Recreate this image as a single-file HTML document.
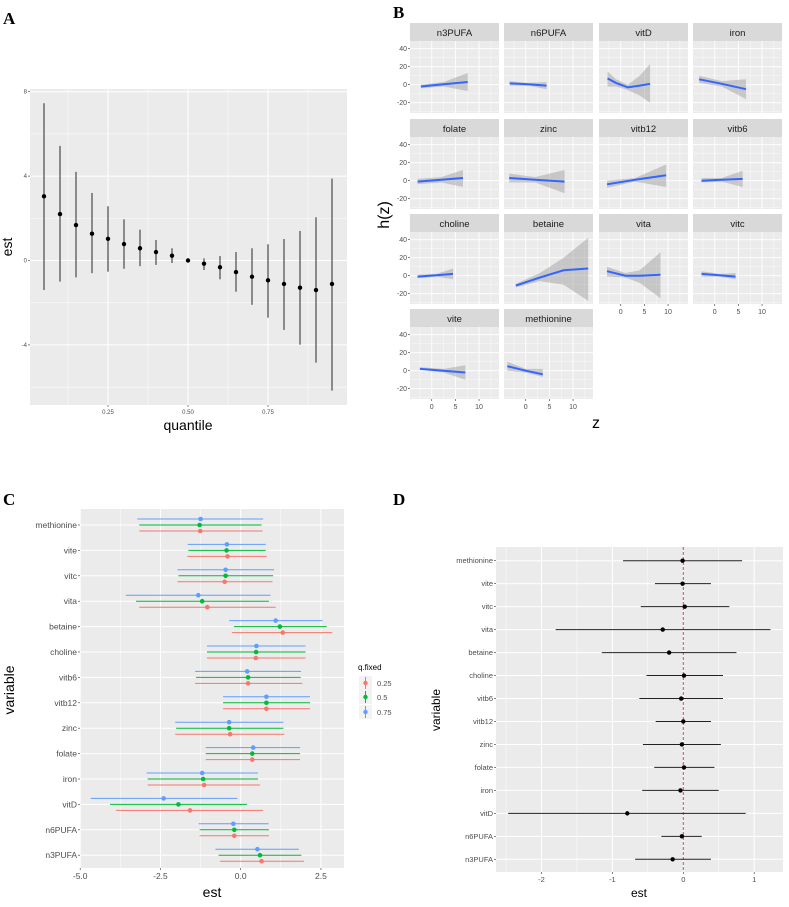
<!DOCTYPE html>
<html><head><meta charset="utf-8"><style>
html,body{margin:0;padding:0;background:#fff;}
svg{display:block;font-family:"Liberation Sans",sans-serif;}
</style></head><body>
<svg id="fig" width="789" height="907" viewBox="0 0 789 907"></svg>
<script>
// ---------- Panel A data ----------
const aQuant=[0.05,0.10,0.15,0.20,0.25,0.30,0.35,0.40,0.45,0.50,0.55,0.60,0.65,0.70,0.75,0.80,0.85,0.90,0.95];
const aEst=[3.04,2.2,1.68,1.27,1.03,0.78,0.58,0.4,0.23,0,-0.15,-0.32,-0.55,-0.77,-0.94,-1.11,-1.29,-1.4,-1.11];
const aLow=[-1.4,-1.0,-0.8,-0.6,-0.53,-0.39,-0.27,-0.21,-0.12,-0.05,-0.45,-0.89,-1.48,-2.1,-2.71,-3.29,-3.99,-4.84,-6.17];
const aHigh=[7.45,5.43,4.2,3.2,2.57,1.95,1.46,0.97,0.58,0.05,0.1,0.21,0.4,0.58,0.77,1.02,1.4,2.05,3.88];
const aYTicks=[8,4,0,-4];
const aXTicks=[0.25,0.50,0.75];
// ---------- Panel B data ----------
const bNames=["n3PUFA","n6PUFA","vitD","iron","folate","zinc","vitb12","vitb6","choline","betaine","vita","vitc","vite","methionine"];
const bZ=[[-2.3,2.5,7.6],[-3.4,0.5,4.4],[-2.8,-1,1.5,4,6.2],[-3.3,1.5,6.6],[-3.0,2,6.6],[-3.5,2,8.2],[-2.9,3,9.6],[-2.8,1.5,5.9],[-3,1,4.5],[-2.1,3,8,13.2],[-2.9,1,4,8.4],[-2.8,1,4.4],[-2.5,2.5,7.1],[-3.9,0,3.6]];
const bH=[[-2,0.5,3],[1.5,0.5,-1],[7,2,-3,-1,1],[6,1,-5],[-1,1,3],[3,1,-1],[-4,1,6],[0,1,2],[-1,0.5,2],[-11,-2,6,8],[5,0,0,1],[2,0.5,-1],[2,0,-2],[5,0,-4]];
const bLo=[[-4,-2,-7],[-1,-1,-5],[-2,-2,-6,-12,-20],[2,-2,-16],[-4,-2,-7],[-2,-2,-14],[-8,-1,-7],[-2,-1,-7],[-3,-1,-4],[-13,-6,-10,-28],[-1,-2,-8,-25],[-1,-1,-4],[1,-2,-10],[0,-2,-7]];
const bHi=[[0,3,13],[4,2,3],[15,6,0,10,23],[10,4,6],[2,4,12],[8,4,12],[0,3,18],[3,3,11],[1,2,8],[-9,3,20,42],[10,3,6,26],[5,2,3],[4,2,6],[10,2,2]];
const bYTicks=[40,20,0,-20];
const bXTicks=[0,5,10];
// ---------- Panel C data ----------
const cVars=["methionine","vite","vitc","vita","betaine","choline","vitb6","vitb12","zinc","folate","iron","vitD","n6PUFA","n3PUFA"];
const cEst25=[-1.26,-0.41,-0.50,-1.04,1.31,0.47,0.23,0.80,-0.33,0.36,-1.14,-1.58,-0.20,0.65];
const cLo25=[-3.16,-1.66,-1.97,-3.16,-0.27,-1.05,-1.42,-0.55,-2.04,-1.09,-2.90,-3.88,-1.28,-0.64];
const cHi25=[0.68,0.81,0.99,1.09,2.85,2.02,1.92,2.16,1.36,1.85,0.60,0.70,0.88,1.97];
const cEst50=[-1.28,-0.44,-0.47,-1.20,1.22,0.48,0.23,0.80,-0.36,0.36,-1.17,-1.94,-0.20,0.60];
const cLo50=[-3.16,-1.63,-1.94,-3.26,-0.21,-1.05,-1.39,-0.55,-2.01,-1.09,-2.90,-4.07,-1.28,-0.69];
const cHi50=[0.65,0.78,1.01,0.88,2.68,2.02,1.87,2.16,1.33,1.85,0.54,0.20,0.88,1.89];
const cEst75=[-1.25,-0.43,-0.47,-1.32,1.09,0.49,0.20,0.80,-0.36,0.39,-1.20,-2.40,-0.23,0.52];
const cLo75=[-3.22,-1.65,-1.97,-3.58,-0.36,-1.05,-1.42,-0.55,-2.04,-1.09,-2.93,-4.67,-1.31,-0.79];
const cHi75=[0.70,0.78,1.04,0.93,2.55,2.02,1.88,2.16,1.33,1.85,0.54,-0.10,0.87,1.81];
const cXTicks=[-5.0,-2.5,0.0,2.5];
const cLevels=["0.25","0.5","0.75"];
// ---------- Panel D data ----------
const dVars=["methionine","vite","vitc","vita","betaine","choline","vitb6","vitb12","zinc","folate","iron","vitD","n6PUFA","n3PUFA"];
const dEst=[-0.01,-0.01,0.02,-0.29,-0.20,0.01,-0.03,0.0,-0.02,0.01,-0.04,-0.79,-0.02,-0.15];
const dLo=[-0.85,-0.40,-0.60,-1.80,-1.15,-0.52,-0.62,-0.39,-0.57,-0.41,-0.58,-2.47,-0.31,-0.68];
const dHi=[0.83,0.39,0.65,1.23,0.75,0.56,0.56,0.39,0.53,0.44,0.50,0.88,0.26,0.39];
const dXTicks=[-2,-1,0,1];

const NS="http://www.w3.org/2000/svg";
const svg=document.getElementById('fig');
function mk(tag,attrs,name,parent){
  const el=document.createElementNS(NS,tag);
  for(const k in attrs) el.setAttribute(k,attrs[k]);
  
  
  (parent||svg).appendChild(el);
  return el;
}
function txt(x,y,s,size,name,opts){
  opts=opts||{};
  const t=mk('text',{x:x,y:y,'font-size':size,fill:opts.fill||'#4d4d4d','text-anchor':opts.anchor||'middle','font-family':opts.ff||'"Liberation Sans",sans-serif','font-weight':opts.fw||'normal'},name);
  if(opts.rot) t.setAttribute('transform','rotate(-90 '+x+' '+y+')');
  t.textContent=s;return t;
}
function line(x1,y1,x2,y2,stroke,w,name,extra){
  const l=mk('line',{x1:x1,y1:y1,x2:x2,y2:y2,stroke:stroke,'stroke-width':w},name);
  if(extra) for(const k in extra) l.setAttribute(k,extra[k]);
  return l;
}
const GRAY='#ebebeb';

// ===== Panel A =====
txt(3,24,'A',17,'panel-a-label',{anchor:'start',fill:'#000',ff:'"Liberation Serif",serif',fw:'bold'});
const aL=30,aR=347,aT=89,aB=405;
const ax=q=>28+(q-0.0)*320;
const ay=v=>260.5-v*21.1;
mk('rect',{x:aL,y:aT,width:aR-aL,height:aB-aT,fill:GRAY},'panel-a-background');
[6,2,-2,-6].forEach(v=>line(aL,ay(v),aR,ay(v),'#fff',0.5,'a-minor-gridline'));
[0.125,0.375,0.625,0.875].forEach(v=>line(ax(v),aT,ax(v),aB,'#fff',0.5,'a-minor-gridline'));
aYTicks.forEach(v=>{line(aL,ay(v),aR,ay(v),'#fff',1,'a-major-gridline');line(aL-2,ay(v),aL,ay(v),'#333',0.6,'a-y-tick');txt(aL-3,ay(v)+2,String(v),6,'a-y-tick-label',{anchor:'end'});});
aXTicks.forEach(v=>{line(ax(v),aT,ax(v),aB,'#fff',1,'a-major-gridline');line(ax(v),aB,ax(v),aB+2,'#333',0.6,'a-x-tick');txt(ax(v),aB+9,v.toFixed(2),6,'a-x-tick-label');});
aQuant.forEach((q,i)=>{
  line(ax(q),ay(aLow[i]),ax(q),ay(aHigh[i]),'#555',1.3,'a-errorbar');
  mk('circle',{cx:ax(q),cy:ay(aEst[i]),r:2.2,fill:'#000'},'a-point');
});
txt(12,247,'est',14,'a-y-axis-title',{fill:'#000',rot:true});
txt(188,430,'quantile',14,'a-x-axis-title',{fill:'#000'});

// ===== Panel B =====
txt(393,18,'B',17,'panel-b-label',{anchor:'start',fill:'#000',ff:'"Liberation Serif",serif',fw:'bold'});
const bCols=[410,504,599,693],bStripTop=[23,119,214,309],bW=89,bSH=18,bPH=72;
const bx=(x0,z)=>x0+(z+4.6)*4.73;
const by=(y0,v)=>y0+7.7+(40-v)*0.9;
bNames.forEach((nm,i)=>{
  const c=i%4,r=Math.floor(i/4);
  const x0=bCols[c],st=bStripTop[r],y0=st+bSH;
  mk('rect',{x:x0,y:st,width:bW,height:bSH,fill:'#d9d9d9'},'facet-strip');
  txt(x0+bW/2,st+13,nm,9.5,'facet-title',{fill:'#1a1a1a'});
  mk('rect',{x:x0,y:y0,width:bW,height:bPH,fill:GRAY},'facet-panel');
  [30,10,-10,-30].forEach(v=>{if(by(y0,v)<y0+bPH&&by(y0,v)>y0)line(x0,by(y0,v),x0+bW,by(y0,v),'#fff',0.4,'b-minor-gridline');});
  [-2.5,2.5,7.5,12.5].forEach(v=>line(bx(x0,v),y0,bx(x0,v),y0+bPH,'#fff',0.4,'b-minor-gridline'));
  bYTicks.forEach(v=>line(x0,by(y0,v),x0+bW,by(y0,v),'#fff',0.9,'b-major-gridline'));
  bXTicks.forEach(v=>line(bx(x0,v),y0,bx(x0,v),y0+bPH,'#fff',0.9,'b-major-gridline'));
  const zs=bZ[i];
  let up=zs.map((z,k)=>bx(x0,z)+','+by(y0,bHi[i][k]));
  let dn=zs.map((z,k)=>bx(x0,z)+','+by(y0,bLo[i][k])).reverse();
  mk('polygon',{points:up.concat(dn).join(' '),fill:'#999',opacity:0.45},'b-confidence-band');
  mk('polyline',{points:zs.map((z,k)=>bx(x0,z)+','+by(y0,bH[i][k])).join(' '),fill:'none',stroke:'#3366ff','stroke-width':2},'b-smooth-line');
  if(c===0) bYTicks.forEach(v=>{line(x0-2,by(y0,v),x0,by(y0,v),'#333',0.6,'b-y-tick');txt(x0-3,by(y0,v)+2.5,String(v),7,'b-y-tick-label',{anchor:'end'});});
  const bottomRow=(r===3)||(r===2&&c>=2);
  if(bottomRow) bXTicks.forEach(v=>{line(bx(x0,v),y0+bPH,bx(x0,v),y0+bPH+2,'#333',0.6,'b-x-tick');txt(bx(x0,v),y0+bPH+10,String(v),7,'b-x-tick-label');});
});
txt(389,215,'h(z)',16,'b-y-axis-title',{fill:'#000',rot:true});
txt(596,428,'z',16,'b-x-axis-title',{fill:'#000'});

// ===== Panel C =====
txt(3,505,'C',17,'panel-c-label',{anchor:'start',fill:'#000',ff:'"Liberation Serif",serif',fw:'bold'});
const cL=80,cR=344,cT=509,cB=868;
const cx=v=>240.7+v*32.1;
const cy=i=>525+i*25.4;
mk('rect',{x:cL,y:cT,width:cR-cL,height:cB-cT,fill:GRAY},'panel-c-background');
[-3.75,-1.25,1.25].forEach(v=>line(cx(v),cT,cx(v),cB,'#fff',0.5,'c-minor-gridline'));
cXTicks.forEach(v=>{line(cx(v),cT,cx(v),cB,'#fff',1,'c-major-gridline');line(cx(v),cB,cx(v),cB+2,'#333',0.6,'c-x-tick');txt(cx(v),cB+11,v.toFixed(1),8.5,'c-x-tick-label');});
cVars.forEach((v,i)=>{line(cL,cy(i),cR,cy(i),'#fff',1,'c-major-gridline');line(cL-2,cy(i),cL,cy(i),'#333',0.6,'c-y-tick');txt(cL-3,cy(i)+3,v,8.5,'c-y-tick-label',{anchor:'end'});});
const cSeries=[[cEst75,cLo75,cHi75,'#619CFF',-6],[cEst50,cLo50,cHi50,'#00BA38',0],[cEst25,cLo25,cHi25,'#F8766D',6]];
cSeries.forEach(s=>{
  cVars.forEach((v,i)=>{
    const y=cy(i)+s[4];
    line(cx(s[1][i]),y,cx(s[2][i]),y,s[3],1,'c-errorbar');
    mk('circle',{cx:cx(s[0][i]),cy:y,r:2.3,fill:s[3]},'c-point');
  });
});
txt(14,690,'variable',14,'c-y-axis-title',{fill:'#000',rot:true});
txt(212,897,'est',14,'c-x-axis-title',{fill:'#000'});
txt(358,670,'q.fixed',8,'c-legend-title',{fill:'#000',anchor:'start'});
[['#F8766D','0.25',683],['#00BA38','0.5',697],['#619CFF','0.75',712]].forEach(k=>{
  mk('rect',{x:359,y:k[2]-7,width:13,height:14,fill:'#f2f2f2'},'c-legend-key-bg');
  line(365.5,k[2]-6,365.5,k[2]+6,k[0],1,'c-legend-key');
  mk('circle',{cx:365.5,cy:k[2],r:2.2,fill:k[0]},'c-legend-key-point');
  txt(377,k[2]+3,k[1],7.5,'c-legend-label',{anchor:'start'});
});

// ===== Panel D =====
txt(393,505,'D',17,'panel-d-label',{anchor:'start',fill:'#000',ff:'"Liberation Serif",serif',fw:'bold'});
const dL=496,dR=783,dT=547,dB=872;
const dx=v=>683.3+v*70.9;
const dy=i=>560.7+i*22.97;
mk('rect',{x:dL,y:dT,width:dR-dL,height:dB-dT,fill:GRAY},'panel-d-background');
[-2.5,-1.5,-0.5,0.5].forEach(v=>line(dx(v),dT,dx(v),dB,'#fff',0.5,'d-minor-gridline'));
dXTicks.forEach(v=>{line(dx(v),dT,dx(v),dB,'#fff',1,'d-major-gridline');line(dx(v),dB,dx(v),dB+2,'#333',0.6,'d-x-tick');txt(dx(v),dB+10,String(v),7.5,'d-x-tick-label');});
dVars.forEach((v,i)=>{line(dL,dy(i),dR,dy(i),'#fff',1,'d-major-gridline');line(dL-2,dy(i),dL,dy(i),'#333',0.6,'d-y-tick');txt(dL-3,dy(i)+2.5,v,7.5,'d-y-tick-label',{anchor:'end'});});
line(dx(0),dT,dx(0),dB,'#c0504d',1,'d-zero-reference-line',{'stroke-dasharray':'3,2'});
dVars.forEach((v,i)=>{
  line(dx(dLo[i]),dy(i),dx(dHi[i]),dy(i),'#222',1,'d-errorbar');
  mk('circle',{cx:dx(dEst[i]),cy:dy(i),r:2.2,fill:'#000'},'d-point');
});
txt(440,710,'variable',12,'d-y-axis-title',{fill:'#000',rot:true});
txt(639,897,'est',12,'d-x-axis-title',{fill:'#000'});
</script>
</body></html>
